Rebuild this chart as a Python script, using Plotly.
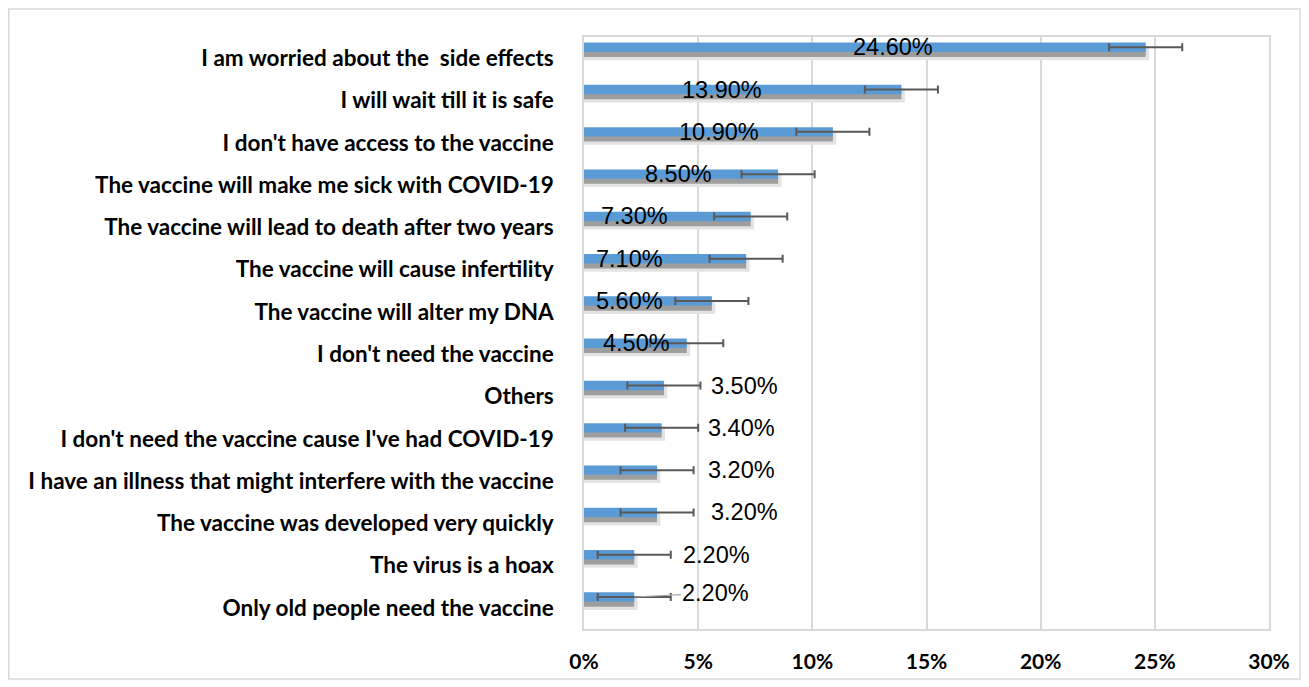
import plotly.graph_objects as go

categories = [
    "I am worried about the  side effects",
    "I will wait till it is safe",
    "I don't have access to the vaccine",
    "The vaccine will make me sick with COVID-19",
    "The vaccine will lead to death after two years",
    "The vaccine will cause infertility",
    "The vaccine will alter my DNA",
    "I don't need the vaccine",
    "Others",
    "I don't need the vaccine cause I've had COVID-19",
    "I have an illness that might interfere with the vaccine",
    "The vaccine was developed very quickly",
    "The virus is a hoax",
    "Only old people need the vaccine",
]
values = [24.6, 13.9, 10.9, 8.5, 7.3, 7.1, 5.6, 4.5, 3.5, 3.4, 3.2, 3.2, 2.2, 2.2]
errors = [1.6, 1.6, 1.6, 1.6, 1.6, 1.6, 1.6, 1.6, 1.6, 1.6, 1.6, 1.6, 1.6, 1.6]
# where each value label sits along the x axis (as in the original, labels were moved by hand)
label_x = [13.53, 6.03, 5.93, 4.16, 2.19, 2.0, 2.0, 2.29, 7.03, 6.91, 6.89, 7.04, 5.8, 5.78]
x_ticks = [0, 5, 10, 15, 20, 25, 30]

labels = [f"{v:.2f}%" for v in values]
pos = list(range(len(categories)))

BLUE = "#5B9BD5"
GRID = "#d9d9d9"
BAR_OFF, BAR_W = -0.368, 0.223
bar_center = BAR_OFF + BAR_W / 2

fig = go.Figure()
# soft outer shadow
fig.add_trace(go.Bar(
    x=[v + 0.15 for v in values], y=pos, orientation="h",
    marker=dict(color="#e3e3e3", line=dict(width=0)),
    offset=-0.28, width=0.33, hoverinfo="skip", showlegend=False,
))
# core shadow
fig.add_trace(go.Bar(
    x=values, y=pos, orientation="h",
    marker=dict(color="#9e9e9e", line=dict(width=0)),
    offset=-0.30, width=0.273, hoverinfo="skip", showlegend=False,
))
# main bars
fig.add_trace(go.Bar(
    x=values, y=pos, orientation="h",
    marker=dict(color=BLUE, line=dict(width=0)),
    offset=BAR_OFF, width=BAR_W, showlegend=False,
    error_x=dict(type="data", array=errors, color="#595959", thickness=2, width=4),
))

LABEL_FONT = dict(family="Liberation Sans, Arial", size=23.5, color="#000000")
annotations = []
last = len(values) - 1
for i, (lx, txt, v) in enumerate(zip(label_x, labels, values)):
    yc = pos[i] + bar_center
    if i == last:
        annotations.append(dict(
            x=v, y=yc, xref="x", yref="y", ax=lx, ay=yc - 0.1, axref="x", ayref="y",
            text=txt, showarrow=True, arrowhead=0, arrowwidth=1.2, arrowcolor="#a6a6a6",
            standoff=0, startstandoff=0, font=LABEL_FONT,
        ))
    else:
        annotations.append(dict(
            x=lx, y=yc, xref="x", yref="y", text=txt, showarrow=False, font=LABEL_FONT,
        ))

# the page body has an 8px margin, so the figure starts at (8, 8) in the window
OFF = 8
L, R, T, B = 584 - OFF, 1269 - OFF, 36.7 - OFF, 629 - OFF
W, H = 1309 - OFF, 687 - OFF
pw, ph = R - L, B - T
fig.add_shape(
    type="rect", xref="paper", yref="paper",
    x0=(0.75 - L) / pw, x1=(1292 - L) / pw, y0=(B - 671) / ph, y1=(B - 0.75) / ph,
    line=dict(color=GRID, width=1.5), fillcolor="rgba(0,0,0,0)", layer="below",
)

fig.update_layout(
    width=W, height=H,
    margin=dict(l=L, r=W - R, t=T, b=H - B, pad=0),
    paper_bgcolor="white", plot_bgcolor="white",
    barmode="overlay",
    annotations=annotations,
    xaxis=dict(
        range=[0, 30], tickvals=x_ticks, ticktext=[f"{t}%" for t in x_ticks],
        showgrid=True, gridcolor=GRID, gridwidth=1.5,
        showline=True, mirror=True, linecolor=GRID, linewidth=1.5,
        zeroline=False,
        ticks="outside", ticklen=13, tickcolor="rgba(0,0,0,0)",
        tickfont=dict(family="Lato", size=21, color="#000000", weight="bold"),
        fixedrange=True,
    ),
    yaxis=dict(
        range=[len(categories) - 0.5, -0.5],
        tickvals=pos, ticktext=categories,
        showgrid=False, zeroline=False,
        showline=True, mirror=True, linecolor=GRID, linewidth=1.5,
        ticks="outside", ticklen=24, tickcolor="rgba(0,0,0,0)",
        tickfont=dict(family="Lato", size=22.5, color="#000000", weight="bold"),
        fixedrange=True,
    ),
)

fig.write_html("out.html")
